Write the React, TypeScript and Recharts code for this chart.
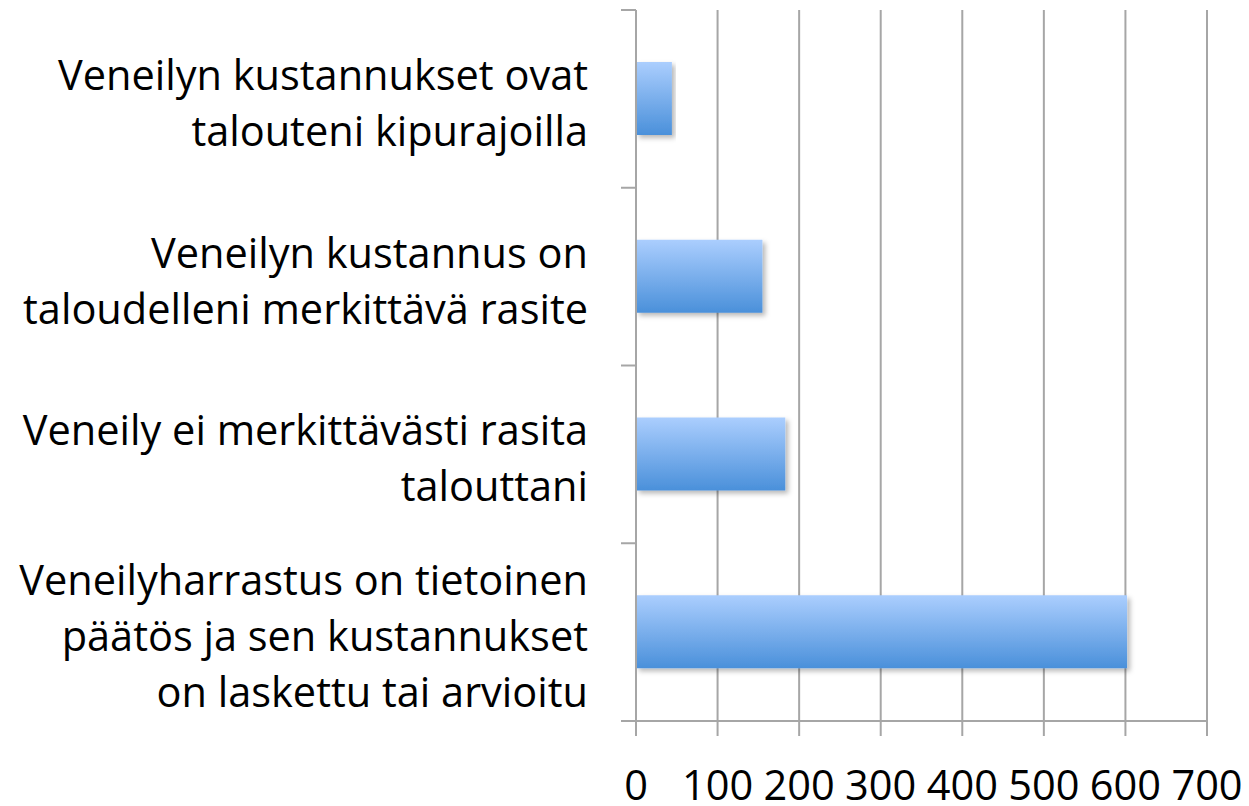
import { Bar, BarChart, CartesianGrid, XAxis, YAxis } from "recharts"

// categories, listed top-down as they appear
const categories = [
  "Veneilyn kustannukset ovat\ntalouteni kipurajoilla",
  "Veneilyn kustannus on\ntaloudelleni merkittävä rasite",
  "Veneily ei merkittävästi rasita\ntalouttani",
  "Veneilyharrastus on tietoinen\npäätös ja sen kustannukset\non laskettu tai arvioitu",
]
const values = [44, 155, 183, 602]
const xTicks = [0, 100, 200, 300, 400, 500, 600, 700]

const FONT = "'Open Sans', Lato, sans-serif"
const FONT_SIZE = 41.5
const LINE_H = 56
const AXIS_GRAY = "#a6a6a6"

const data = categories.map((name, i) => ({ name, value: values[i] }))

function CategoryTick(props: any) {
  const { x, y, payload, index, visibleTicksCount } = props
  const lines = String(payload.value).split("\n")
  const half = payload.offset ?? 711 / 8
  const lx1 = x + 33
  const lx2 = x + 48
  return (
    <g>
      <line x1={lx1} x2={lx2} y1={y - half} y2={y - half} stroke={AXIS_GRAY} strokeWidth={2} />
      {index === visibleTicksCount - 1 && (
        <line x1={lx1} x2={lx2} y1={y + half} y2={y + half} stroke={AXIS_GRAY} strokeWidth={2} />
      )}
      <text textAnchor="end" fontFamily={FONT} fontSize={FONT_SIZE} fill="#000">
        {lines.map((l, i) => (
          <tspan key={i} x={x} y={y + 19 + (i - (lines.length - 1) / 2) * LINE_H}>
            {l}
          </tspan>
        ))}
      </text>
    </g>
  )
}

function ValueTick(props: any) {
  const { x, y, payload } = props
  return (
    <text x={x} y={y} dy={64} textAnchor="middle" fontFamily={FONT} fontSize={FONT_SIZE} fill="#000">
      {payload.value}
    </text>
  )
}

export default function App() {
  return (
    <div style={{ position: "absolute", left: 0, top: 0, background: "#fff" }}>
      <BarChart
        width={1249}
        height={806}
        data={data}
        layout="vertical"
        margin={{ top: 10, right: 42, bottom: 0, left: 0 }}
      >
        <defs>
          <linearGradient id="barFill" x1="0" y1="0" x2="0" y2="1">
            <stop offset="0%" stopColor="#abcefe" />
            <stop offset="100%" stopColor="#4a90da" />
          </linearGradient>
          <filter id="barShadow" x="-5%" y="-20%" width="115%" height="150%">
            <feDropShadow dx={3} dy={3} stdDeviation={2.5} floodColor="#000" floodOpacity={0.28} />
          </filter>
        </defs>
        <CartesianGrid horizontal={false} stroke={AXIS_GRAY} strokeWidth={2} />
        <XAxis
          type="number"
          domain={[0, 700]}
          ticks={xTicks}
          interval={0}
          height={85}
          tickSize={15}
          tickMargin={0}
          stroke={AXIS_GRAY}
          strokeWidth={2}
          tick={<ValueTick />}
        />
        <YAxis
          type="category"
          dataKey="name"
          width={636}
          tickSize={15}
          tickMargin={33}
          tickLine={false}
          stroke={AXIS_GRAY}
          strokeWidth={2}
          interval={0}
          tick={<CategoryTick />}
        />
        <Bar
          dataKey="value"
          barSize={73}
          fill="url(#barFill)"
          filter="url(#barShadow)"
          isAnimationActive={false}
        />
      </BarChart>
    </div>
  )
}
